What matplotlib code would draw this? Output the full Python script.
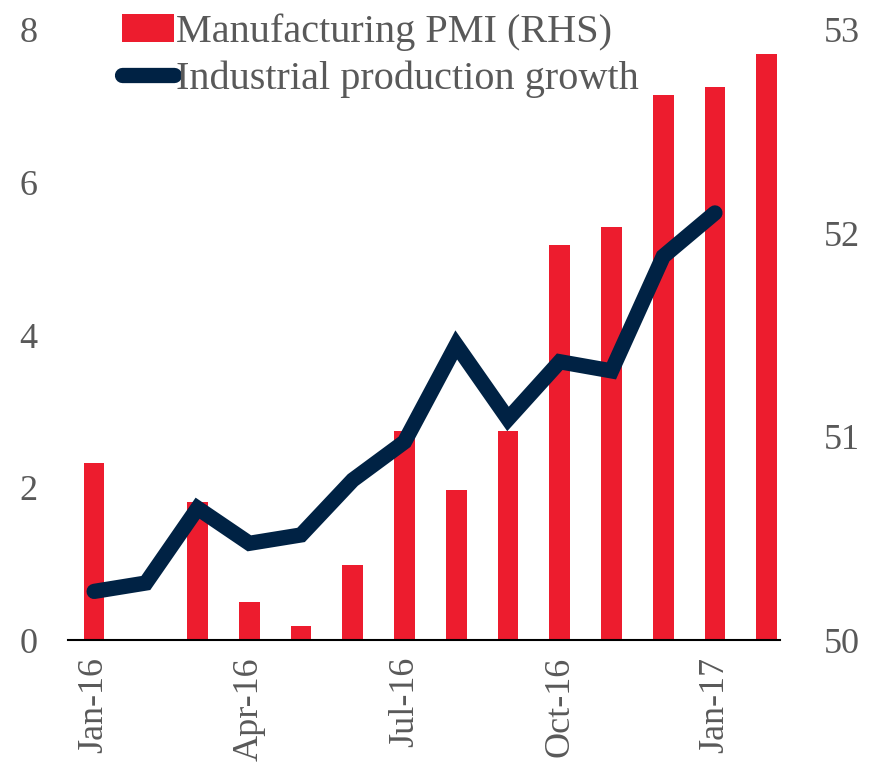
import numpy as np
import matplotlib.pyplot as plt

months = ["Jan-16", "Feb-16", "Mar-16", "Apr-16", "May-16", "Jun-16", "Jul-16",
          "Aug-16", "Sep-16", "Oct-16", "Nov-16", "Dec-16", "Jan-17", "Feb-17"]
pmi = [50.87, 49.9, 50.68, 50.19, 50.07, 50.37, 51.03,
       50.74, 51.03, 51.94, 52.03, 52.68, 52.72, 52.88]
ip_growth = [0.64, 0.75, 1.73, 1.27, 1.38, 2.10, 2.60,
             3.87, 2.90, 3.65, 3.53, 5.03, 5.60]
shown_ticks = ["Jan-16", "Apr-16", "Jul-16", "Oct-16", "Jan-17"]

red = "#ED1C2E"
navy = "#002244"
grey = "#595959"

plt.rcParams['font.family'] = ['Liberation Serif', 'DejaVu Serif']

fig = plt.figure(figsize=(8.75, 7.64), dpi=100)
ax = fig.add_axes([0.078, 0.162, 0.813, 0.799])
ax2 = ax.twinx()

x = np.arange(len(months))
bars = ax2.bar(x, np.array(pmi) - 50, bottom=50, width=0.4, color=red,
               label="Manufacturing PMI (RHS)")
line, = ax.plot(x[:len(ip_growth)], ip_growth, color=navy, lw=11,
                solid_capstyle='round', solid_joinstyle='miter',
                label="Industrial production growth")

# line above the bars
ax.set_zorder(ax2.get_zorder() + 1)
ax.patch.set_visible(False)

ax.set_ylim(0, 8)
ax.set_yticks([0, 2, 4, 6, 8])
ax2.set_ylim(50, 53)
ax2.set_yticks([50, 51, 52, 53])
ax.set_xlim(-0.5, 13.25)

ax.set_xticks([months.index(m) for m in shown_ticks])
ax.set_xticklabels(shown_ticks, rotation=90)

for a in (ax, ax2):
    for s in ("top", "left", "right"):
        a.spines[s].set_visible(False)
    a.tick_params(axis='both', length=0, labelsize=26, labelcolor=grey)
ax2.spines["bottom"].set_visible(False)
ax.spines["bottom"].set_color("black")
ax.spines["bottom"].set_linewidth(1.5)
ax.tick_params(axis='y', pad=22)
ax2.tick_params(axis='y', pad=32)
ax.tick_params(axis='x', pad=12)

fig.legend(handles=[bars, line], loc='upper left', bbox_to_anchor=(0.098, 1.03),
           frameon=False, fontsize=29, handlelength=1.3, handletextpad=0.05,
           labelspacing=0.25, labelcolor=grey)

fig.savefig("out.png", dpi=100)
